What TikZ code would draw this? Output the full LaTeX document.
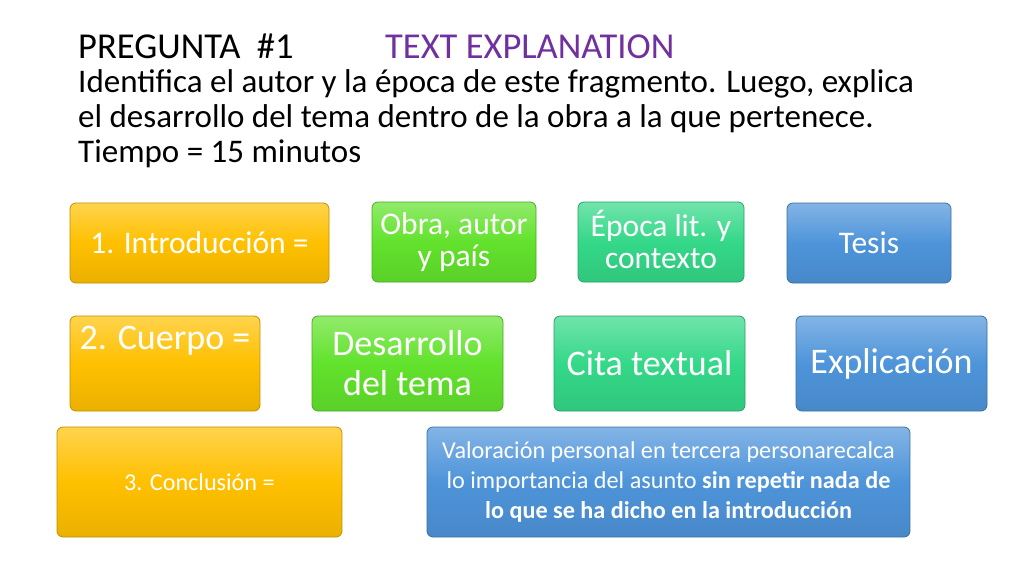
\documentclass[tikz,border=0pt]{standalone}
\usepackage{fontspec}
\setmainfont{Carlito}
\usepackage{tikz}
\usetikzlibrary{positioning}

\definecolor{cAmber}{RGB}{255,192,0}
\definecolor{cLime}{RGB}{98,226,44}
\definecolor{cMint}{RGB}{52,216,136}
\definecolor{cSky}{RGB}{78,148,218}
\definecolor{cPurple}{RGB}{112,48,160}

\begin{document}
\begin{tikzpicture}[
  x=1pt, y=-1pt,
  box/.style = {draw=#1!75!black, line width=0.8pt, rounded corners=6pt,
    top color=#1!70!white, bottom color=#1!92!black, middle color=#1,
    text=white, align=center, inner sep=2pt},
  heading/.style = {anchor=base west, inner sep=0pt, font=\fontsize{36.5}{38}\selectfont},
  taskline/.style = {anchor=base west, inner sep=0pt, font=\fontsize{33}{35}\selectfont},
  small/.style = {font=\fontsize{31.5}{32}\selectfont},
  big/.style = {font=\fontsize{36}{40}\selectfont},
  tiny/.style = {font=\fontsize{24.2}{30}\selectfont}
  ]
  \useasboundingbox[fill=white] (0,0) rectangle (1024,576);

  % heading
  \node[heading] (preg) at (78,58) {PREGUNTA\ \ \#1};
  \node[heading, text=cPurple] (expl) at (385,58) {TEXT EXPLANATION};
  \node[taskline] (task1) at (78,92) {Identifica el autor y la época de este fragmento. Luego, explica};
  \node[taskline] (task2) at (78,127) {el desarrollo del tema dentro de la obra a la que pertenece.};
  \node[taskline] (task3) at (78,162) {Tiempo = 15 minutos};

  % 1. introduccion
  \node[box=cAmber, small, minimum width=259pt, minimum height=80pt] (intro) at (199.5,243) {1. Introducción =};
  \node[box=cLime, small, minimum width=164pt, minimum height=80pt] (obra) at (454,242) {Obra, autor\\y país};
  \node[box=cMint, small, minimum width=166pt, minimum height=80pt] (epoca) at (661,242) {\smash{É}poca lit. y\\contexto};
  \node[box=cSky, small, minimum width=164pt, minimum height=80pt] (tesis) at (869,243) {Tesis};

  % 2. cuerpo
  \node[box=cAmber, big, minimum width=190pt, minimum height=95pt] (cuerpo) at (165,363.5) {2. Cuerpo =\\\strut};
  \node[box=cLime, big, minimum width=191pt, minimum height=95pt] (desarrollo) at (407.5,363.5) {Desarrollo\\del tema};
  \node[box=cMint, big, minimum width=191pt, minimum height=95pt] (cita) at (649.5,363.5) {Cita textual};
  \node[box=cSky, big, minimum width=191pt, minimum height=95pt] (explic) at (891.5,363.5) {Explicación};

  % 3. conclusion
  \node[box=cAmber, tiny, minimum width=285pt, minimum height=110pt] (concl) at (199.5,482) {3. Conclusión =};
  \node[box=cSky, tiny, minimum width=483pt, minimum height=110pt] (valor) at (668.5,482)
    {Valoración personal en tercera personarecalca\\lo importancia del asunto \textbf{sin repetir nada de}\\\textbf{lo que se ha dicho en la introducción}};
\end{tikzpicture}
\end{document}
